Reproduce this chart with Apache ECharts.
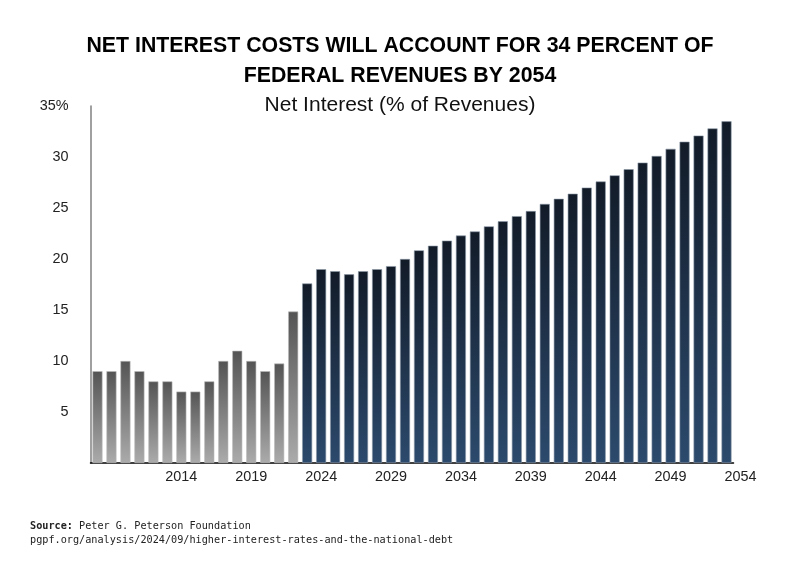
<!DOCTYPE html>
<html>
<head>
<meta charset="utf-8">
<script src="https://cdn.jsdelivr.net/npm/echarts@6/dist/echarts.min.js"></script>
<style>html,body{margin:0;padding:0;background:#fff;}#c{width:800px;height:570px;}</style>
</head>
<body>
<div id="c"></div>
<script>
var years = [];
for (var y = 2009; y <= 2054; y++) years.push(String(y));

// Net interest as % of revenues, actual (2009-2023)
var actualValues = [9, 9, 10, 9, 8, 8, 7, 7, 8, 10, 11, 10, 9, 9.75, 14.85];
// Projected (2024-2054)
var projectedValues = [17.6, 19.0, 18.8, 18.5, 18.8, 19.0, 19.3, 20.0, 20.85, 21.3, 21.8, 22.3, 22.7, 23.2, 23.7, 24.2,
  24.7, 25.4, 25.9, 26.4, 27.0, 27.6, 28.2, 28.8, 29.45, 30.1, 30.8, 31.5, 32.1, 32.8, 33.5];

var xTickLabels = [2014, 2019, 2024, 2029, 2034, 2039, 2044, 2049, 2054];

var actualSeries = years.map(function (yr, i) { return i < actualValues.length ? actualValues[i] : null; });
var projSeries = years.map(function (yr, i) { return i >= actualValues.length ? projectedValues[i - actualValues.length] : null; });

var grayGrad = new echarts.graphic.LinearGradient(0, 0, 0, 1, [
  { offset: 0, color: '#545454' }, { offset: 1, color: '#ababab' }
]);
var blueGrad = new echarts.graphic.LinearGradient(0, 0, 0, 1, [
  { offset: 0, color: '#121b28' }, { offset: 1, color: '#2c4a6d' }
]);

var FONT = 'Liberation Sans, Arial, Helvetica, sans-serif';
var MONO = 'DejaVu Sans Mono, monospace';

var chart = echarts.init(document.getElementById('c'), null, { renderer: 'canvas' });
chart.setOption({
  animation: false,
  backgroundColor: '#ffffff',
  title: [
    {
      text: 'NET INTEREST COSTS WILL ACCOUNT FOR 34 PERCENT OF\nFEDERAL REVENUES BY 2054',
      left: 'center', top: 26,
      textStyle: { fontFamily: FONT, fontWeight: 'bold', fontSize: 21.3, lineHeight: 30, color: '#000', align: 'center' }
    },
    {
      text: 'Net Interest (% of Revenues)',
      left: 'center', top: 90,
      textStyle: { fontFamily: FONT, fontWeight: 'normal', fontSize: 21, color: '#111' }
    },
    {
      text: '{b|Source:} Peter G. Peterson Foundation\npgpf.org/analysis/2024/09/higher-interest-rates-and-the-national-debt',
      left: 25, top: 514,
      textStyle: {
        fontFamily: MONO, fontSize: 10.2, lineHeight: 14, color: '#222', fontWeight: 'normal',
        rich: { b: { fontFamily: MONO, fontSize: 10.2, fontWeight: 'bold', color: '#222' } }
      }
    }
  ],
  grid: [
    { left: 90.5, right: 66.5, top: 106, bottom: 107, containLabel: false },
    { left: 90.5, right: 52.5, top: 106, bottom: 107, containLabel: false }
  ],
  xAxis: [
    {
      type: 'category', gridIndex: 0, data: years, boundaryGap: true,
      axisLine: { show: true, lineStyle: { color: '#000', width: 1.5 } },
      axisTick: { show: false },
      axisLabel: { show: false }
    },
    {
      type: 'value', gridIndex: 1, min: 2007.5, max: 2054.5,
      axisLine: { show: false }, axisTick: { show: false }, splitLine: { show: false },
      axisLabel: {
        customValues: xTickLabels, margin: 7,
        fontFamily: FONT, fontSize: 14.4, color: '#222',
        formatter: function (v) { return String(v); }
      }
    }
  ],
  yAxis: [
    {
      type: 'value', gridIndex: 0, min: 0, max: 35, interval: 5,
      axisLine: { show: true, lineStyle: { color: '#808080', width: 1.5 } },
      axisTick: { show: false },
      splitLine: { show: false },
      axisLabel: {
        margin: 22, fontFamily: FONT, fontSize: 14.4, color: '#222',
        formatter: function (v) { return v === 0 ? '' : (v === 35 ? v + '%' : String(v)); }
      }
    },
    { type: 'value', gridIndex: 1, min: 0, max: 35, show: false }
  ],
  series: [
    {
      name: 'Actual', type: 'bar', xAxisIndex: 0, yAxisIndex: 0, stack: 'all',
      data: actualSeries, barWidth: 10,
      itemStyle: { color: grayGrad, borderColor: '#b9b9b9', borderWidth: 0.6 }
    },
    {
      name: 'Projected', type: 'bar', xAxisIndex: 0, yAxisIndex: 0, stack: 'all',
      data: projSeries, barWidth: 10,
      itemStyle: { color: blueGrad, borderColor: '#8c98a8', borderWidth: 0.6 }
    }
  ]
});
</script>
</body>
</html>
